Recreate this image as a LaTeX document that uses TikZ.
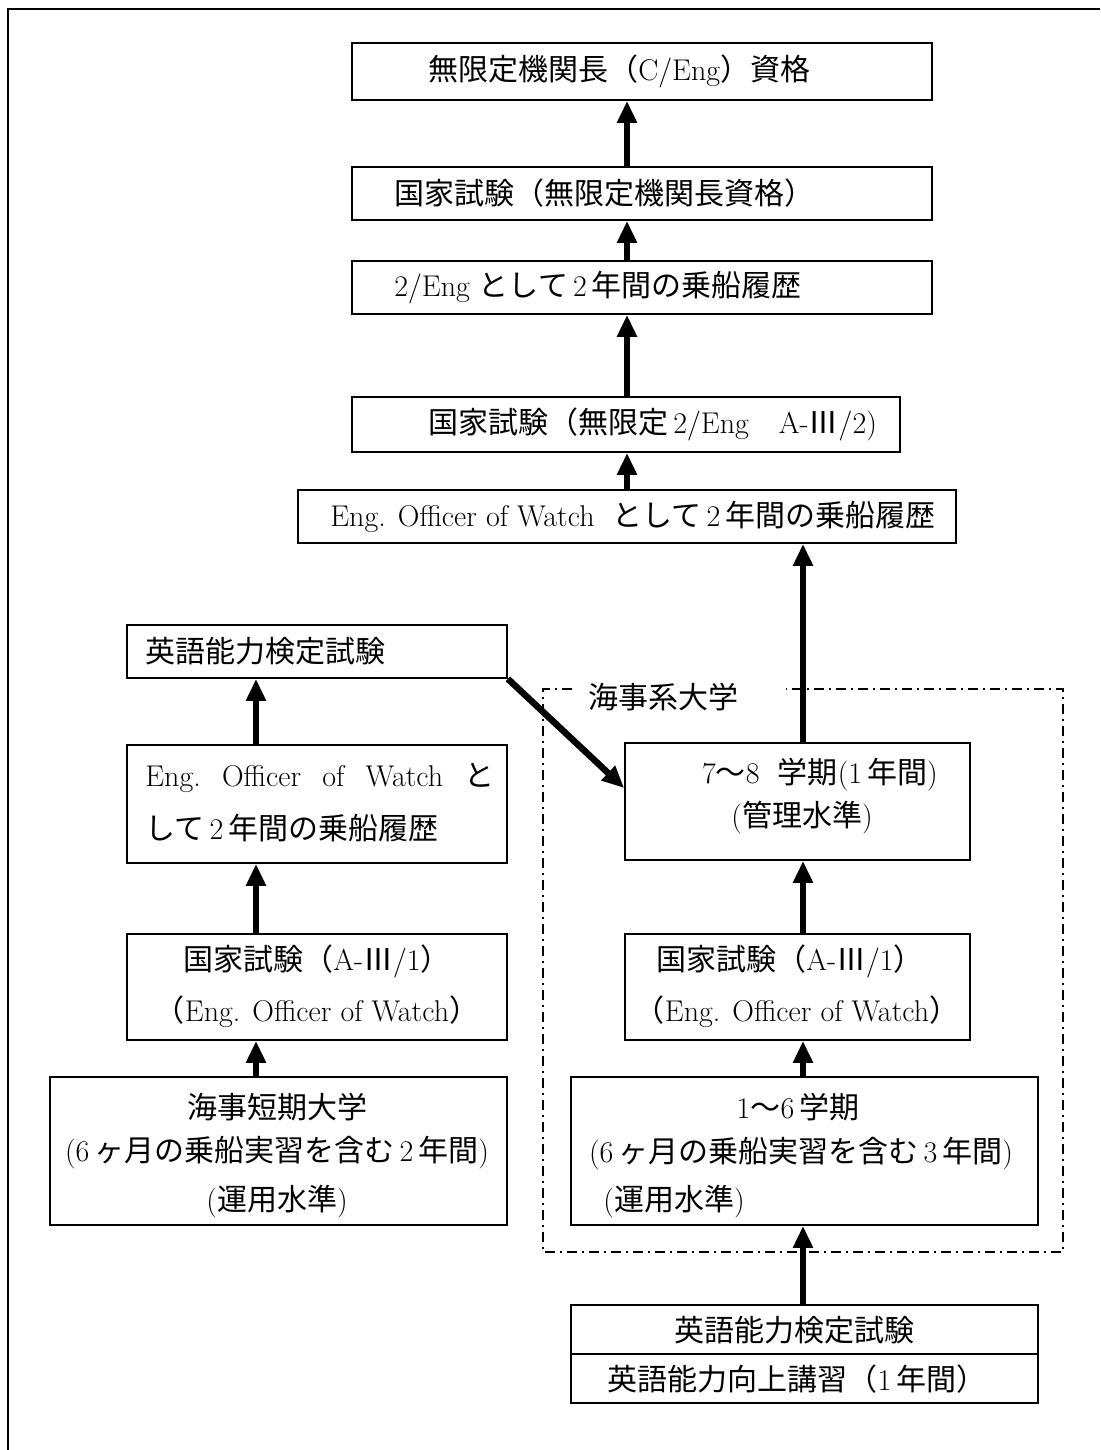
\documentclass[tikz,border=0pt]{standalone}
\usepackage{fontspec}
\newfontfamily\jp{Noto Sans CJK JP}
\usetikzlibrary{arrows.meta,calc}
\tikzset{
  bx/.style={draw, line width=0.9pt, inner sep=0pt},
  arr/.style={line width=3.25pt, -{Triangle[width=9.5pt,length=11pt]}},
  txt/.style={inner sep=0pt, font=\fontsize{15pt}{18pt}\selectfont},
  frameline/.style={line width=1pt},
  dashdot/.style={line width=0.75pt, dash pattern=on 5pt off 2.5pt on 1pt off 2.5pt}
}
\begin{document}
\begin{tikzpicture}[x=0.5pt,y=-0.5pt]
\useasboundingbox[fill=white] (0,0) rectangle (1100,1450);
% outer frame (top and left edges)
\draw[frameline] (7.5,1450) -- (7.5,9) -- (1100,9);

% top column boxes
\node[bx, minimum width=290pt, minimum height=28.5pt] (B1) at (642,71.5) {};
\node[bx, minimum width=290pt, minimum height=26.5pt] (B2) at (642,193.5) {};
\node[bx, minimum width=290pt, minimum height=26.5pt] (B3) at (642,287.5) {};
\node[bx, minimum width=274pt, minimum height=27.5pt] (B4) at (626,424.5) {};
\node[bx, minimum width=329pt, minimum height=26.5pt] (W) at (627,516.5) {};

\node[txt, anchor=west] (tB1) at (428,71.5) {{\jp 無限定機関長（}C/Eng{\jp ）資格}};
\node[txt, anchor=west] (tB2) at (394,193.5) {{\jp 国家試験（無限定機関長資格）}};
\node[txt, anchor=west] (tB3) at (394,287.5) {2/Eng {\jp として}\,2\,{\jp 年間の乗船履歴}};
\node[txt, anchor=west] (tB4) at (428,424.5) {{\jp 国家試験（無限定}\,2/Eng{\jp 　}A-{\jp Ⅲ}/2)};
\node[txt, anchor=west] (tW) at (330,516.5) {Eng. Officer of Watch\hspace{0.6em}{\jp として}\,2\,{\jp 年間の乗船履歴}};

% left column
\node[bx, minimum width=190pt, minimum height=26.5pt] (L1) at (317,651.5) {};
\node[bx, minimum width=190pt, minimum height=59pt] (L2) at (317,804) {};
\node[bx, minimum width=190pt, minimum height=53pt] (L3) at (317,987) {};
\node[bx, minimum width=228.5pt, minimum height=74pt] (L4) at (278.5,1151) {};

\node[txt, anchor=west] (tL1) at (145,651.5) {{\jp 英語能力検定試験}};
\node[txt, anchor=west] (tL2a) at (145,778) {\hbox to 174.5pt{Eng.\hfill Officer\hfill of\hfill Watch\hfill{\jp と}}};
\node[txt, anchor=west] (tL2b) at (145,828) {{\jp して}\,2\,{\jp 年間の乗船履歴}};
\node[txt] (tL3a) at (317,961) {{\jp 国家試験（}A-{\jp Ⅲ}/1{\jp ）}};
\node[txt] (tL3b) at (317,1012) {{\jp （}Eng. Officer of Watch{\jp ）}};
\node[txt] (tL4a) at (277,1107) {{\jp 海事短期大学}};
\node[txt] (tL4b) at (277,1153) {(6\,{\jp ヶ月の乗船実習を含む}\,2\,{\jp 年間})};
\node[txt] (tL4c) at (277,1202) {({\jp 運用水準})};

% maritime university group (dash-dot frame)
\draw[dashdot] (572,689) -- (543,689) -- (543,1252) -- (1063,1252) -- (1063,689) -- (786,689);
\node[txt, anchor=west] (lab) at (588,697) {{\jp 海事系大学}};

% right column
\node[bx, minimum width=172.5pt, minimum height=58.5pt] (R1) at (797.5,801.5) {};
\node[bx, minimum width=172.5pt, minimum height=53pt] (R2) at (797.5,987) {};
\node[bx, minimum width=233.5pt, minimum height=74pt] (R3) at (804.5,1151) {};
\node[bx, minimum width=233.5pt, minimum height=24.5pt] (R4a) at (804.5,1329.5) {};
\node[bx, minimum width=233.5pt, minimum height=24.5pt] (R4b) at (804.5,1378.5) {};

\node[txt] (tR1a) at (820,775) {7{\jp ～}8\ \ {\jp 学期}(1\,{\jp 年間})};
\node[txt, anchor=west] (tR1b) at (731,818) {({\jp 管理水準})};
\node[txt] (tR2a) at (790,961) {{\jp 国家試験（}A-{\jp Ⅲ}/1{\jp ）}};
\node[txt] (tR2b) at (797,1012) {{\jp （}Eng. Officer of Watch{\jp ）}};
\node[txt] (tR3a) at (798,1107) {1{\jp ～}6\,{\jp 学期}};
\node[txt] (tR3b) at (801,1154) {(6\,{\jp ヶ月の乗船実習を含む}\,3\,{\jp 年間})};
\node[txt, anchor=west] (tR3c) at (603,1202) {({\jp 運用水準})};
\node[txt] (tR4a) at (794,1330) {{\jp 英語能力検定試験}};
\node[txt] (tR4b) at (797,1379) {{\jp 英語能力向上講習（}1\,{\jp 年間）}};

% arrow columns
\coordinate (cA) at (627,0);
\coordinate (cB) at (803,0);
\coordinate (cC) at (256,0);

\draw[arr] (cA |- B2.north) -- (cA |- B1.south);
\draw[arr] (cA |- B3.north) -- (cA |- B2.south);
\draw[arr] (cA |- B4.north) -- (cA |- B3.south);
\draw[arr] (cA |- W.north) -- (cA |- B4.south);
\draw[arr] (cB |- R1.north) -- (cB |- W.south);
\draw[arr] (cB |- R2.north) -- (cB |- R1.south);
\draw[arr] (cB |- R3.north) -- (cB |- R2.south);
\draw[arr] (cB |- R4a.north) -- (cB |- R3.south);
\draw[arr] (cC |- L2.north) -- (cC |- L1.south);
\draw[arr] (cC |- L3.north) -- (cC |- L2.south);
\draw[arr] (cC |- L4.north) -- (cC |- L3.south);
\draw[arr] (L1.south east) -- ([yshift=6.75pt]R1.west);
\end{tikzpicture}
\end{document}
